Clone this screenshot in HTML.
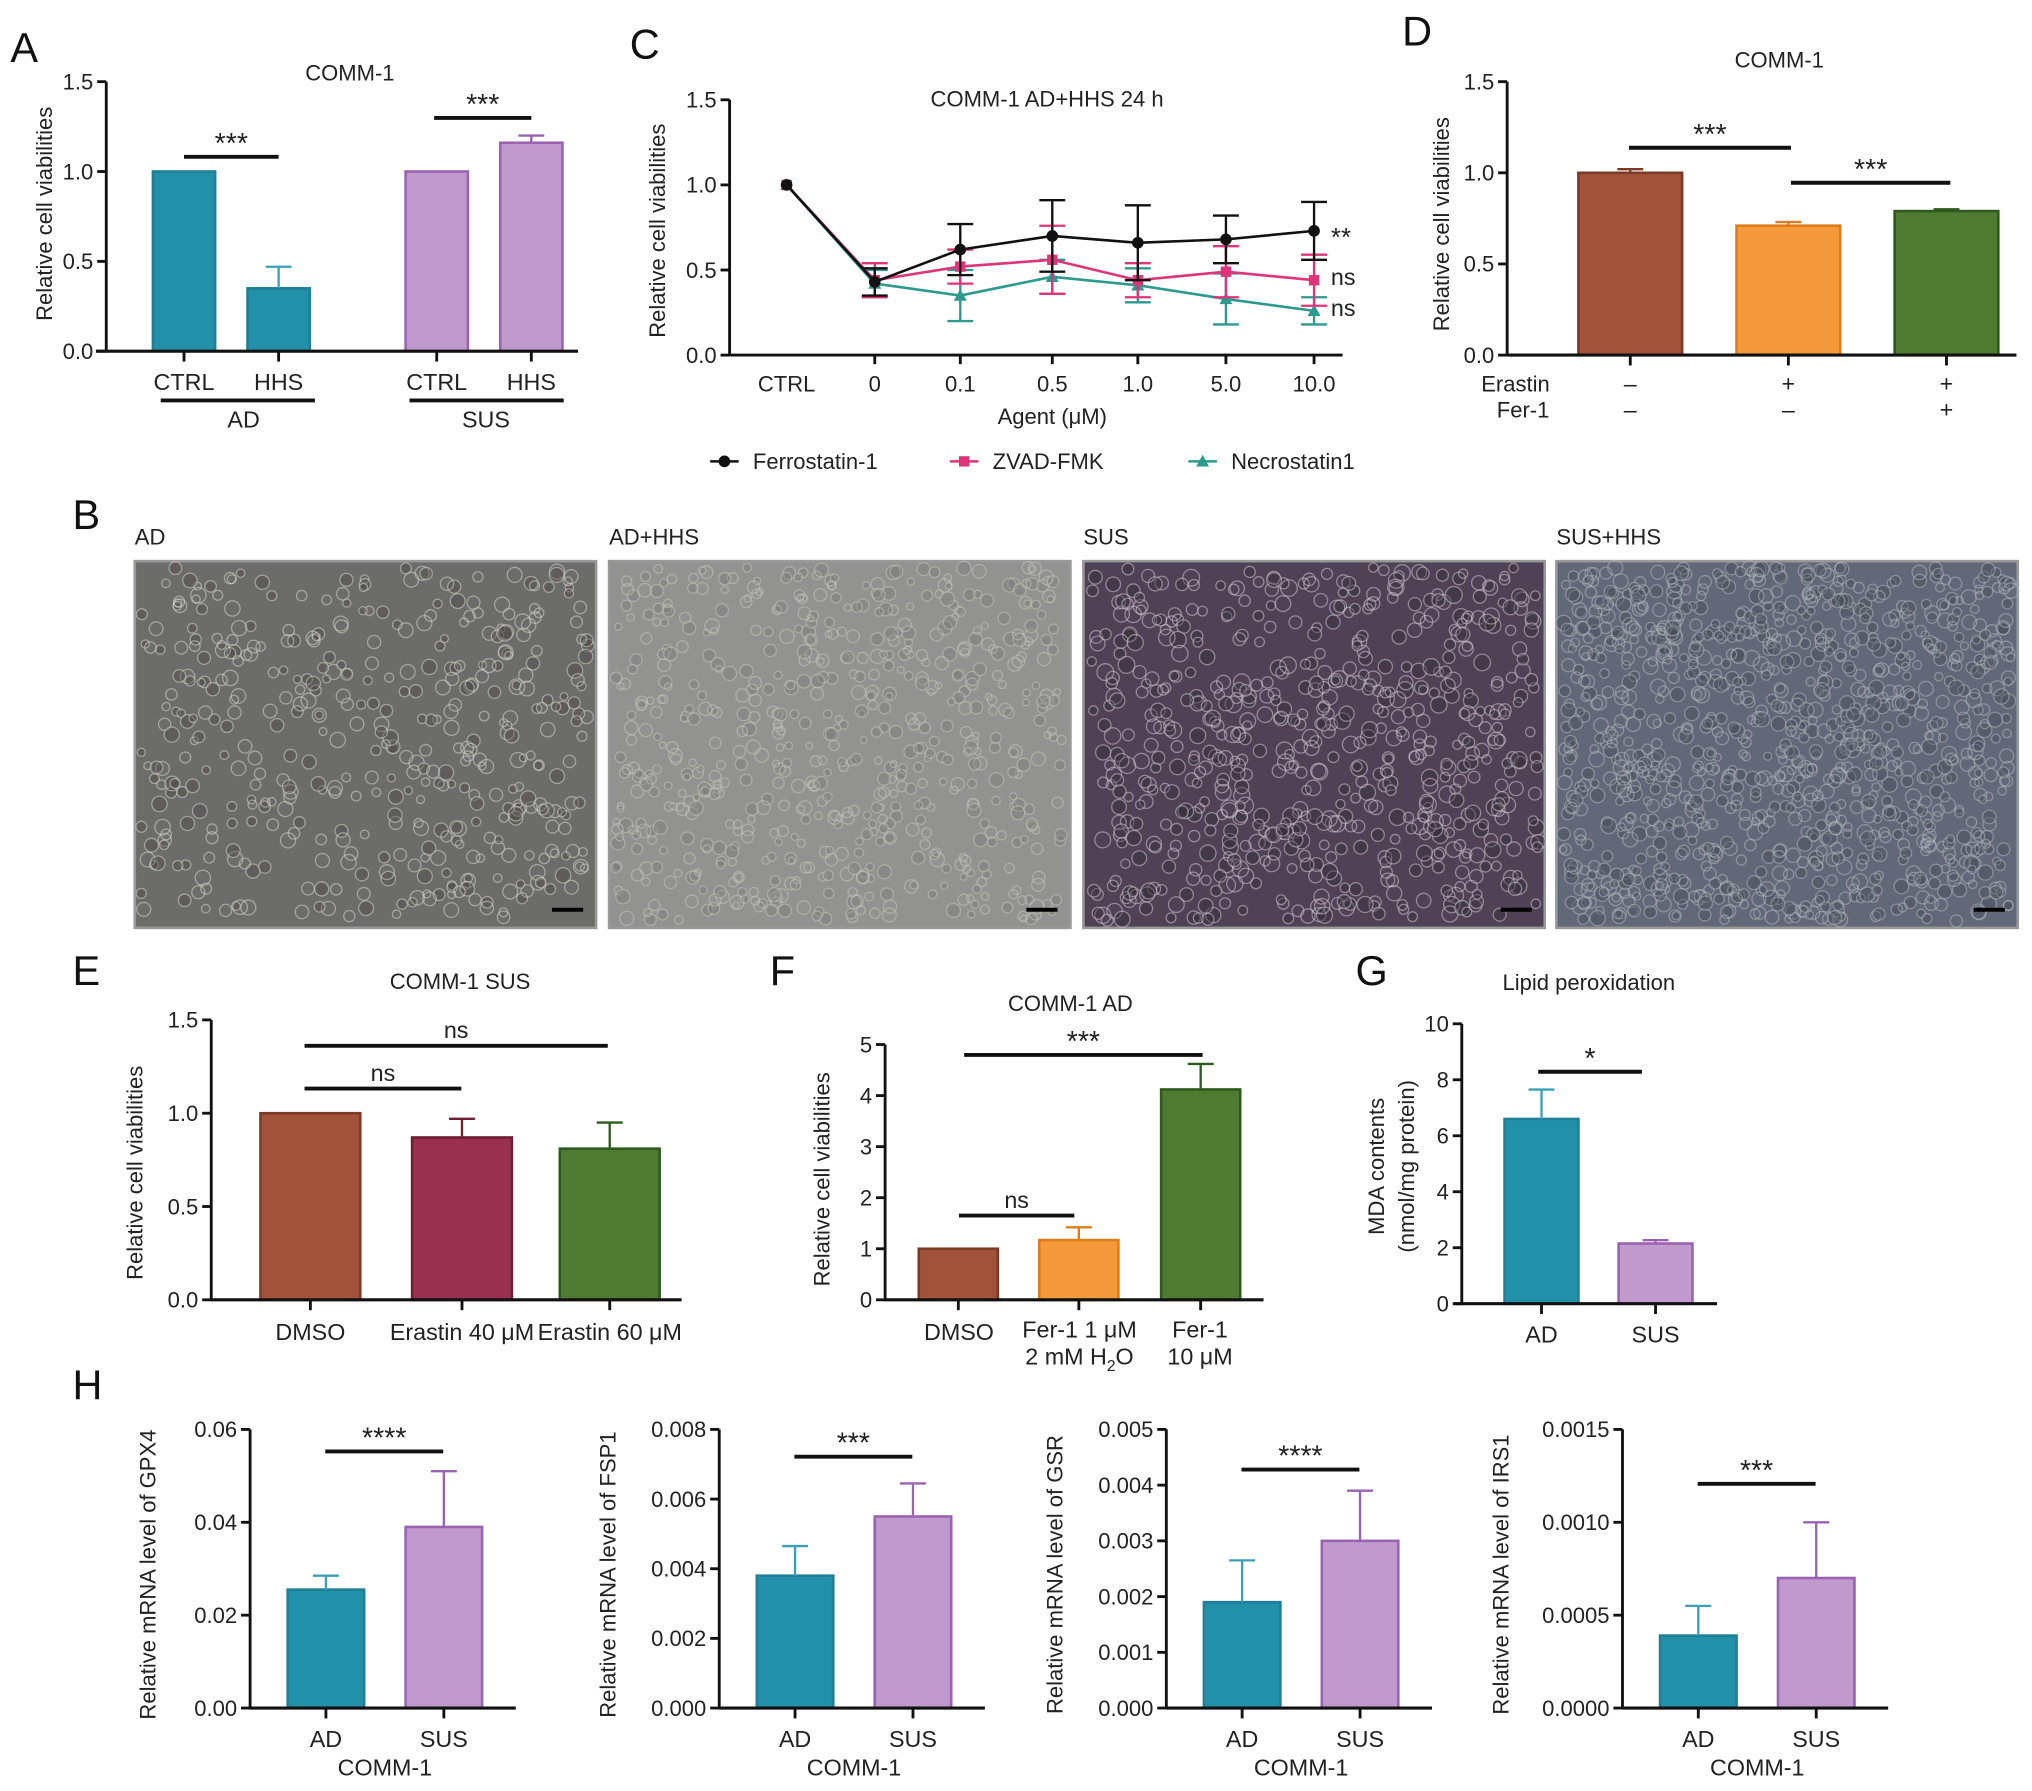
<!DOCTYPE html>
<html><head><meta charset="utf-8"><style>
html,body{margin:0;padding:0;background:#fff}
svg{display:block;font-family:"Liberation Sans",Arial,sans-serif}
</style></head><body>
<svg id="fig" width="2032" height="1791" viewBox="0 0 1568 1382" xmlns="http://www.w3.org/2000/svg">
<rect width="1568" height="1382" fill="#fff"/>
<g id="root"></g>
</svg>
<script>
// ---- data ----
const aCats=["CTRL","HHS","CTRL","HHS"];
const aVals=[1.0,0.35,1.0,1.16];
const aErr=[0,0.12,0,0.04];
const cCats=["CTRL","0","0.1","0.5","1.0","5.0","10.0"];
const cFerro=[1.0,0.43,0.62,0.70,0.66,0.68,0.73];
const cFerroErr=[0,0.08,0.15,0.21,0.22,0.14,0.17];
const cZvad=[1.0,0.44,0.52,0.56,0.44,0.49,0.44];
const cZvadErr=[0,0.10,0.10,0.20,0.10,0.15,0.15];
const cNecro=[1.0,0.42,0.35,0.46,0.41,0.33,0.26];
const cNecroErr=[0,0.08,0.15,0.10,0.10,0.15,0.08];
const cTicks=[0,0.5,1.0,1.5];
const dVals=[1.0,0.71,0.79];
const dErr=[0.02,0.02,0.01];
const eCats=["DMSO","Erastin 40 μM","Erastin 60 μM"];
const eVals=[1.0,0.87,0.81];
const eErr=[0,0.10,0.14];
const fVals=[1.0,1.17,4.12];
const fErr=[0,0.25,0.5];
const fTicks=[0,1,2,3,4,5];
const gVals=[6.6,2.15];
const gErr=[1.05,0.12];
const gTicks=[0,2,4,6,8,10];
const hGenes=["GPX4","FSP1","GSR","IRS1"];
const hAD=[0.0255,0.0038,0.0019,0.00039];
const hSUS=[0.039,0.0055,0.0030,0.0007];
const hADerr=[0.003,0.00085,0.00075,0.00016];
const hSUSerr=[0.012,0.00095,0.0009,0.0003];
const hTickLabels=[["0.00","0.02","0.04","0.06"],["0.000","0.002","0.004","0.006","0.008"],["0.000","0.001","0.002","0.003","0.004","0.005"],["0.0000","0.0005","0.0010","0.0015"]];
const hMax=[0.06,0.008,0.005,0.0015];

const NS="http://www.w3.org/2000/svg";
const root=document.getElementById('root');
function el(tag,attrs,parent,text){const e=document.createElementNS(NS,tag);for(const k in attrs)e.setAttribute(k,attrs[k]);if(text!==undefined)e.textContent=text;(parent||root).appendChild(e);return e;}
function txt(x,y,s,size,anchor,parent,extra){const t=el('text',Object.assign({x:x,y:y,'font-size':size||17,'text-anchor':anchor||'middle',fill:'#222'},extra||{}),parent,s);return t;}
function line(x1,y1,x2,y2,w,parent,col){return el('line',{x1,y1,x2,y2,stroke:col||'#111','stroke-width':w||2.2},parent);}
function yAxis(g,x,y0,y1,ticks,labels,fs){line(x,y0+1,x,y1,2.2,g);ticks.forEach((t,i)=>{const y=y0+(y1-y0)*i/(ticks.length-1);line(x-7,y,x,y,2.2,g);txt(x-10,y+6,labels[i],fs||17,'end',g);});}
function ylabel(g,x,y,s,fs){const t=txt(x,y,s,fs||17,'middle',g,{transform:`rotate(-90 ${x} ${y})`});return t;}
function bar(g,x,w,yv,y0,fill,stroke,name){const r=el('rect',{x:x,y:yv,width:w,height:y0-yv,fill:fill,stroke:stroke,'stroke-width':2},g);

return r;}
function err(g,cx,yv,ye,col){if(Math.abs(yv-ye)<0.5)return;line(cx,yv,cx,ye,1.8,g,col);line(cx-10,ye,cx+10,ye,1.8,g,col);}
function sig(g,x1,x2,y,s){line(x1,y,x2,y,3,g);const star=s.indexOf('*')>=0;txt((x1+x2)/2,y-(star?3:6),s,star?22:18,'middle',g);}
function panelLetter(x,y,s){const t=txt(x,y,s,32,'start',root,{fill:'#111'});}
function grp(name){const g=el('g',{});return g;}
const TEAL="#2190a8",TEALS="#1e7f96",PUR="#c09acd",PURS="#9a62b0";

// ---- Panel A ----
panelLetter(8,48,"A");
(function(){const g=grp('panel-a-chart');const ax=82,y0=271,y1=63,sc=v=>y0-(y0-y1)*v/1.5;
txt(270,62,"COMM-1",17,'middle',g);
const xs=[118,191,313,386],w=48;
aVals.forEach((v,i)=>{const f=i<2?TEAL:PUR,s=i<2?TEALS:PURS;bar(g,xs[i],w,sc(v),y0,f,s,'bar-a-'+i);err(g,xs[i]+w/2,sc(v),sc(v+aErr[i]),i<2?"#3aa0b8":PURS);line(xs[i]+w/2,y0,xs[i]+w/2,y0+8,2.2,g);txt(xs[i]+w/2,y0+30,aCats[i],18,'middle',g);});
line(ax-8,y0,446,y0,2.4,g);yAxis(g,ax,y0,y1,[0,.5,1,1.5],["0.0","0.5","1.0","1.5"]);
ylabel(g,40,165,"Relative cell viabilities");
sig(g,142,215,121,"***");sig(g,335,410,91,"***");
line(124,309,243,309,3,g);line(316,309,435,309,3,g);txt(188,330,"AD",18,'middle',g);txt(375,330,"SUS",18,'middle',g);})();

// ---- Panel C ----
panelLetter(486,45,"C");
(function(){const g=grp('panel-c-line-chart');const ax=563,y0=274,y1=77,sc=v=>y0-(y0-y1)*v/1.5;
const xs=[607,675,741,812,878,946,1014];
txt(808,82,"COMM-1 AD+HHS 24 h",17,'middle',g);
line(ax,y0,1036,y0,2.2,g);yAxis(g,ax,y0,y1,cTicks,["0.0","0.5","1.0","1.5"]);
xs.forEach((x,i)=>{if(i>0)line(x,y0,x,y0+7,2.2,g);txt(x,y0+28,cCats[i],17,'middle',g);});
txt(812,327,"Agent (μM)",17,'middle',g);
ylabel(g,513,178,"Relative cell viabilities");
const series=[[cNecro,cNecroErr,"#2c9a8e",'tri','series-necrostatin1'],[cZvad,cZvadErr,"#e0347a",'sq','series-zvad-fmk'],[cFerro,cFerroErr,"#111",'dot','series-ferrostatin-1']];
series.forEach(([vals,er,col,mk,name])=>{const sg=el('g',{},g);
vals.forEach((v,i)=>{err(sg,xs[i],sc(v),sc(v+er[i]),col);err(sg,xs[i],sc(v),sc(v-er[i]),col);});
el('polyline',{points:vals.map((v,i)=>xs[i]+','+sc(v)).join(' '),fill:'none',stroke:col,'stroke-width':2},sg);
vals.forEach((v,i)=>{const x=xs[i],y=sc(v);let m;if(mk==='dot')m=el('circle',{cx:x,cy:y,r:4.5,fill:col},sg);else if(mk==='sq')m=el('rect',{x:x-4,y:y-4,width:8,height:8,fill:col},sg);else m=el('polygon',{points:`${x},${y-5} ${x-5},${y+4} ${x+5},${y+4}`,fill:col},sg);

});});
txt(1027,190,"**",20,'start',g);txt(1027,220,"ns",18,'start',g);txt(1027,244,"ns",18,'start',g);
const lg=[[548,"Ferrostatin-1","#111",'dot'],[733,"ZVAD-FMK","#e0347a",'sq'],[917,"Necrostatin1","#2c9a8e",'tri']];
lg.forEach(([x,s,col,mk])=>{const lgE=el('g',{},g);line(x,356,x+22,356,2,lgE,col);if(mk==='dot')el('circle',{cx:x+11,cy:356,r:4.5,fill:col},lgE);else if(mk==='sq')el('rect',{x:x+7,y:352,width:8,height:8,fill:col},lgE);else el('polygon',{points:`${x+11},351 ${x+6},360 ${x+16},360`,fill:col},lgE);txt(x+33,362,s,17,'start',lgE);});})();

// ---- Panel D ----
panelLetter(1082,35,"D");
(function(){const g=grp('panel-d-chart');const ax=1163,y0=274,y1=63,sc=v=>y0-(y0-y1)*v/1.5;
txt(1373,52,"COMM-1",17,'middle',g);
const xs=[1218,1340,1462],w=80,cols=[["#a0523a","#7a3a26"],["#f59a3c","#e07b1a"],["#4e7a32","#2f5a1d"]];
dVals.forEach((v,i)=>{bar(g,xs[i],w,sc(v),y0,cols[i][0],cols[i][1],'bar-d-'+i);err(g,xs[i]+w/2,sc(v),sc(v+dErr[i]),cols[i][1]);line(xs[i]+w/2,y0,xs[i]+w/2,y0+8,2.2,g);});
line(ax,y0,1556,y0,2.4,g);yAxis(g,ax,y0,y1,[0,.5,1,1.5],["0.0","0.5","1.0","1.5"]);
ylabel(g,1118,173,"Relative cell viabilities");
sig(g,1257,1382,114,"***");sig(g,1382,1505,141,"***");
txt(1143,302,"Erastin",17,'start',g);txt(1155,322,"Fer-1",17,'start',g);
[["–","–"],["+","–"],["+","+"]].forEach((p,i)=>{txt(xs[i]+w/2,302,p[0],18,'middle',g);txt(xs[i]+w/2,322,p[1],18,'middle',g);});})();

// ---- Panel B micrographs ----
panelLetter(56,408,"B");
(function(){const panels=[[104,"AD","#6c6d6b","#d4d4cc","#4a4644"],[470,"AD+HHS","#929290","#c4c4be","#7a7a78"],[836,"SUS","#4f4255","#d0c4d2","#352c38"],[1201,"SUS+HHS","#636878","#b0b4bc","#474b58"]];
let seed=7;const rnd=()=>{seed=(seed*16807)%2147483647;return seed/2147483647;};
panels.forEach(([x,lab,bg,hi,dk],pi)=>{const g=grp('micrograph-'+lab.toLowerCase().replace('+','-'));
txt(x,420,lab,17,'start',g);
el('rect',{x:x,y:433,width:356,height:283,fill:bg,stroke:'#999','stroke-width':2},g);
const n=pi===3?1100:pi===2?650:pi===1?650:450;
const rb=pi===3?3:pi===2?3.5:pi===1?2.5:3;
for(let k=0;k<n;k++){const cx=x+5+rnd()*346,cy=438+rnd()*273,r=rb+rnd()*3;el('circle',{cx:cx,cy:cy,r:r,fill:rnd()<0.5?dk:'none',stroke:hi,'stroke-width':1,'fill-opacity':0.4,'stroke-opacity':0.55},g);}
line(x+322,702,x+346,702,3,g,'#000');});})();

// ---- Panel E ----
panelLetter(56,760,"E");
(function(){const g=grp('panel-e-chart');const ax=163,y0=1003,y1=787,sc=v=>y0-(y0-y1)*v/1.5;
txt(355,763,"COMM-1 SUS",17,'middle',g);
const xs=[201,318,432],w=77,cols=[["#a0523a","#7a3a26"],["#9a3050","#6e1f36"],["#4e7a32","#2f5a1d"]];
eVals.forEach((v,i)=>{bar(g,xs[i],w,sc(v),y0,cols[i][0],cols[i][1],'bar-e-'+i);err(g,xs[i]+w/2,sc(v),sc(v+eErr[i]),cols[i][1]);line(xs[i]+w/2,y0,xs[i]+w/2,y0+8,2.2,g);txt(xs[i]+w/2,y0+31,eCats[i],18,'middle',g);});
line(ax,y0,526,y0,2.4,g);yAxis(g,ax,y0,y1,[0,.5,1,1.5],["0.0","0.5","1.0","1.5"]);
ylabel(g,110,905,"Relative cell viabilities");
sig(g,235,469,807,"ns");sig(g,235,356,840,"ns");})();

// ---- Panel F ----
panelLetter(594,760,"F");
(function(){const g=grp('panel-f-chart');const ax=683,y0=1003,y1=806,sc=v=>y0-(y0-y1)*v/5;
txt(826,780,"COMM-1 AD",17,'middle',g);
const xs=[709,802,896],w=61,cols=[["#a0523a","#7a3a26"],["#f59a3c","#e07b1a"],["#4e7a32","#2f5a1d"]];
fVals.forEach((v,i)=>{bar(g,xs[i],w,sc(v),y0,cols[i][0],cols[i][1],'bar-f-'+i);err(g,xs[i]+w/2,sc(v),sc(v+fErr[i]),cols[i][1]);line(xs[i]+w/2,y0,xs[i]+w/2,y0+8,2.2,g);});
line(ax,y0,975,y0,2.4,g);yAxis(g,ax,y0,y1,fTicks,fTicks.map(String));
ylabel(g,640,910,"Relative cell viabilities");
sig(g,740,829,938,"ns");sig(g,744,928,814,"***");
txt(740,1034,"DMSO",18,'middle',g);txt(833,1032,"Fer-1 1 μM",18,'middle',g);
const t=txt(833,1053,"2 mM H",18,'middle',g);el('tspan',{'font-size':12,dy:5},t,'2');el('tspan',{dy:-5},t,'O');
txt(926,1032,"Fer-1",18,'middle',g);txt(926,1053,"10 μM",18,'middle',g);})();

// ---- Panel G ----
panelLetter(1046,760,"G");
(function(){const g=grp('panel-g-chart');const ax=1128,y0=1006,y1=790,sc=v=>y0-(y0-y1)*v/10;
txt(1226,764,"Lipid peroxidation",17,'middle',g);
const xs=[1161,1249],w=57;
gVals.forEach((v,i)=>{bar(g,xs[i],w,sc(v),y0,i?PUR:TEAL,i?PURS:TEALS,'bar-g-'+i);err(g,xs[i]+w/2,sc(v),sc(v+gErr[i]),i?PURS:"#3aa0b8");line(xs[i]+w/2,y0,xs[i]+w/2,y0+8,2.2,g);txt(xs[i]+w/2,y0+30,i?"SUS":"AD",18,'middle',g);});
line(ax-6,y0,1325,y0,2.4,g);yAxis(g,ax,y0,y1,gTicks,gTicks.map(String));
ylabel(g,1068,900,"MDA contents");ylabel(g,1091,900,"(nmol/mg protein)");
sig(g,1187,1267,827,"*");})();

// ---- Panel H ----
panelLetter(56,1080,"H");
(function(){const axs=[193,555,900,1252];const sigs=["****","***","****","***"];const sigY=[1120,1124,1134,1145];
hGenes.forEach((gene,k)=>{const g=grp('panel-h-chart-'+gene.toLowerCase());const ax=axs[k],y0=1318,y1=1103,mx=hMax[k],sc=v=>y0-(y0-y1)*v/mx;
const xs=[ax+29,ax+120],w=59;
[hAD[k],hSUS[k]].forEach((v,i)=>{const e=[hADerr[k],hSUSerr[k]][i];bar(g,xs[i],w,sc(v),y0,i?PUR:TEAL,i?PURS:TEALS,'bar-h-'+gene.toLowerCase()+'-'+(i?'sus':'ad'));err(g,xs[i]+w/2,sc(v),sc(v+e),i?PURS:"#3aa0b8");line(xs[i]+w/2,y0,xs[i]+w/2,y0+8,2.2,g);txt(xs[i]+w/2,y0+30,i?"SUS":"AD",18,'middle',g);});
line(ax,y0,ax+205,y0,2.4,g);const tl=hTickLabels[k];yAxis(g,ax,y0,y1,tl.map((_,i)=>i),tl);
txt(ax+104,y0+52,"COMM-1",18,'middle',g);
ylabel(g,ax-(k===0?73:k===3?88:80),1215,"Relative mRNA level of "+gene);
sig(g,ax+58,ax+149,sigY[k],sigs[k]);});})();
</script>
</body></html>
